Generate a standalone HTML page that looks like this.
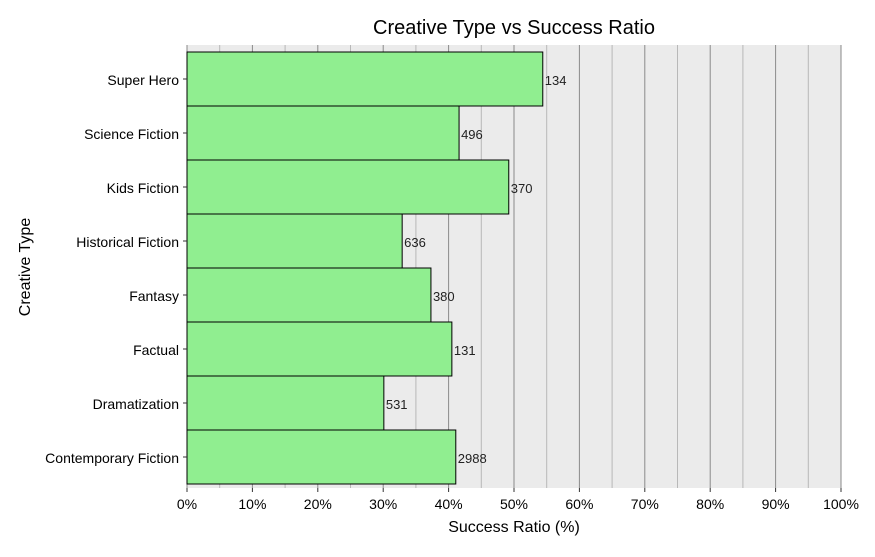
<!DOCTYPE html>
<html><head><meta charset="utf-8"><style>
body{margin:0;background:#fff;}
svg text{font-family:"Liberation Sans",Arial,sans-serif;}
</style></head><body>
<svg id="chart" width="875" height="552" xmlns="http://www.w3.org/2000/svg">
<text x="514" y="34" font-size="20" text-anchor="middle" fill="#000">Creative Type vs Success Ratio</text>
<rect x="187" y="45" width="654" height="443" fill="#ebebeb"/>
<g id="grid"></g><g id="bars"></g><g id="axes"></g>
<text x="514" y="532" font-size="16" text-anchor="middle" fill="#000">Success Ratio (%)</text>
<text transform="translate(30,267) rotate(-90)" font-size="16" text-anchor="middle" fill="#000">Creative Type</text>
</svg>
<script>
const categories=["Super Hero","Science Fiction","Kids Fiction","Historical Fiction","Fantasy","Factual","Dramatization","Contemporary Fiction"];
const ratios=[54.4,41.6,49.2,32.9,37.3,40.5,30.1,41.1];
const counts=[134,496,370,636,380,131,531,2988];
const xTicks=[0,10,20,30,40,50,60,70,80,90,100];
const NS="http://www.w3.org/2000/svg";
const X0=187,X1=841,Y0=52,BAND=54;
const x=v=>X0+(X1-X0)*v/100;
const yb=i=>Y0+i*BAND;
function mk(t,a,p){const e=document.createElementNS(NS,t);for(const k in a)e.setAttribute(k,a[k]);p.appendChild(e);return e;}
const grid=document.getElementById('grid'),bars=document.getElementById('bars'),axes=document.getElementById('axes');
for(let v=5;v<=100;v+=10){const l=mk('line',{x1:x(v),x2:x(v),y1:45,y2:488,stroke:'#b8b8b8','stroke-width':1},grid);

}
xTicks.forEach(v=>{const l=mk('line',{x1:x(v),x2:x(v),y1:45,y2:488,stroke:'#8a8a8a','stroke-width':1},grid);


const tk=mk('line',{x1:x(v),x2:x(v),y1:488,y2:492,stroke:'#333'},axes);


const t=mk('text',{x:x(v),y:509,'font-size':14,'text-anchor':'middle',fill:'#000'},axes);t.textContent=v+'%';

});
categories.forEach((c,i)=>{const r=mk('rect',{x:X0,y:yb(i),width:x(ratios[i])-X0,height:BAND,fill:'#90ee90',stroke:'#000','stroke-width':1},bars);


const t=mk('text',{x:x(ratios[i])+2,y:yb(i)+BAND/2+6,'font-size':13,fill:'#222'},bars);t.textContent=counts[i];


const tk=mk('line',{x1:183,x2:187,y1:yb(i)+BAND/2,y2:yb(i)+BAND/2,stroke:'#333'},axes);


const l=mk('text',{x:179,y:yb(i)+BAND/2+6,'font-size':14,'text-anchor':'end',fill:'#000'},axes);l.textContent=c;

});
</script>
</body></html>
